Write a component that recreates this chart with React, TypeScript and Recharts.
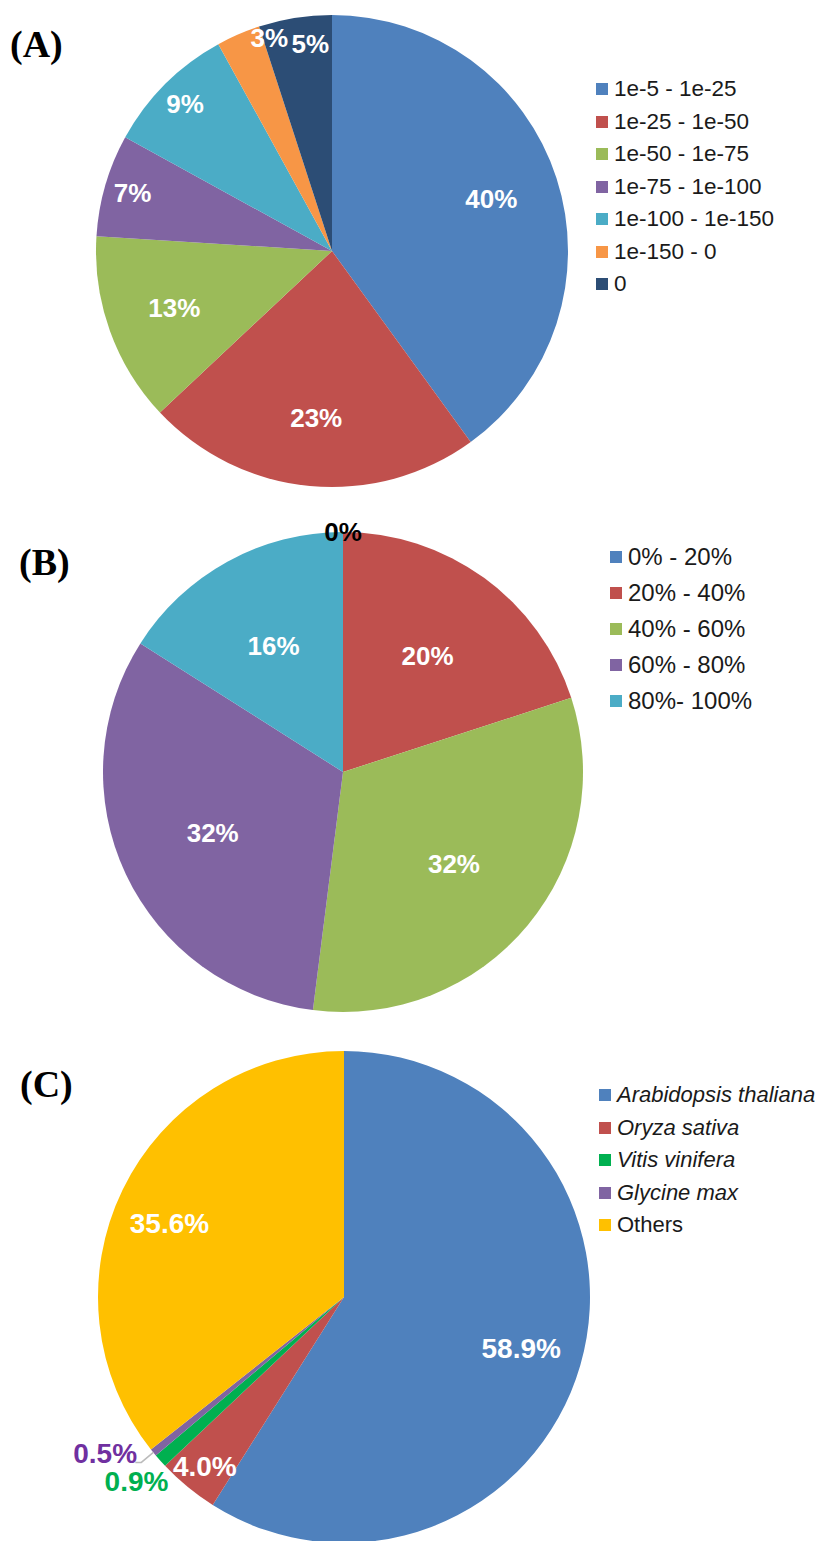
import { PieChart, Pie, Cell, Legend } from 'recharts';

// (A) e-value ranges
const A_NAMES = ['1e-5 - 1e-25', '1e-25 - 1e-50', '1e-50 - 1e-75', '1e-75 - 1e-100', '1e-100 - 1e-150', '1e-150 - 0', '0'];
const A_VALUES = [40, 23, 13, 7, 9, 3, 5];
const A_COLORS = ['#4F81BD', '#C0504D', '#9BBB59', '#8064A2', '#4BACC6', '#F79646', '#2C4D75'];

// (B) identity ranges
const B_NAMES = ['0% - 20%', '20% - 40%', '40% - 60%', '60% - 80%', '80%- 100%'];
const B_VALUES = [0, 20, 32, 32, 16];
const B_COLORS = ['#4F81BD', '#C0504D', '#9BBB59', '#8064A2', '#4BACC6'];

// (C) species
const C_NAMES = ['Arabidopsis thaliana', 'Oryza sativa', 'Vitis vinifera', 'Glycine max', 'Others'];
const C_VALUES = [58.9, 4.0, 0.9, 0.5, 35.6];
const C_COLORS = ['#4F81BD', '#C0504D', '#00B050', '#8064A2', '#FFC000'];
const C_LABEL_COLORS = ['#fff', '#fff', '#00B050', '#7030A0', '#fff'];

const toRows = (names: string[], values: number[]) =>
  names.map((name, i) => ({ name, value: values[i] }));

const RADIAN = Math.PI / 180;
const SANS = '"Liberation Sans", Arial, sans-serif';
const NO_MARGIN = { top: 0, right: 0, bottom: 0, left: 0 };

function polar(cx: number, cy: number, r: number, angle: number) {
  return { x: cx + r * Math.cos(-angle * RADIAN), y: cy + r * Math.sin(-angle * RADIAN) };
}

function labelA(p: any) {
  // small slices get pushed toward the rim, like Excel's best fit
  const k = p.value < 5 ? 0.94 : p.value < 10 ? 0.88 : 0.71;
  const ang = p.value < 4 ? p.midAngle - 7 : p.value < 6 ? p.midAngle - 3 : p.midAngle;
  const { x, y } = polar(p.cx, p.cy, p.outerRadius * k, ang);
  return (
    <text x={x} y={y} fill="#fff" fontFamily={SANS} fontWeight="bold" fontSize={26}
      textAnchor="middle" dominantBaseline="central">
      {`${p.value}%`}
    </text>
  );
}

function labelB(p: any) {
  const zero = p.value === 0;
  const { x, y } = polar(p.cx, p.cy, p.outerRadius * (zero ? 1.0 : 0.6), p.midAngle);
  return (
    <text x={x} y={y} fill={zero ? '#000' : '#fff'} fontFamily={SANS} fontWeight="bold" fontSize={26}
      textAnchor="middle" dominantBaseline="central">
      {`${p.value}%`}
    </text>
  );
}

function labelC(p: any) {
  const i = p.index;
  const tiny = p.value < 1;
  const smallest = tiny && p.value < 0.7;
  const k = tiny ? (smallest ? 1.16 : 1.13) : p.value < 10 ? 0.89 : p.value > 50 ? 0.75 : 0.77;
  let ang = p.midAngle;
  if (smallest) ang -= 6;
  else if (p.value > 30 && p.value < 50) ang += 3;
  const { x, y } = polar(p.cx, p.cy, p.outerRadius * k, ang);
  let leader = null;
  if (smallest) {
    const e = polar(p.cx, p.cy, p.outerRadius, p.midAngle);
    leader = (
      <polyline points={`${e.x},${e.y} ${e.x - 12},${e.y + 10} ${e.x - 18},${e.y + 10}`}
        fill="none" stroke="#bbb" strokeWidth={1.5} />
    );
  }
  return (
    <g>
      {leader}
      <text x={x} y={y} fill={C_LABEL_COLORS[i]} fontFamily={SANS} fontWeight="bold" fontSize={28}
        textAnchor="middle" dominantBaseline="central">
        {`${p.value.toFixed(1)}%`}
      </text>
    </g>
  );
}

function legendContent(names: string[], colors: string[], rowH: number, fontSize: number,
  italic: (name: string) => boolean) {
  return () => (
    <div style={{ fontFamily: SANS, fontSize, color: '#1a1a1a' }}>
      {names.map((name, i) => (
        <div key={name} style={{ height: rowH, display: 'flex', alignItems: 'center', whiteSpace: 'nowrap' }}>
          <span style={{ display: 'inline-block', width: 12, height: 12, background: colors[i], marginRight: 6 }} />
          <span style={{ fontStyle: italic(name) ? 'italic' : 'normal' }}>{name}</span>
        </div>
      ))}
    </div>
  );
}

export default function App() {
  const dataA = toRows(A_NAMES, A_VALUES);
  const dataB = toRows(B_NAMES, B_VALUES);
  const dataC = toRows(C_NAMES, C_VALUES);

  return (
    <div style={{ position: 'absolute', left: 0, top: 0, width: 825, height: 1541, background: '#fff', overflow: 'hidden' }}>
      <div style={{ position: 'absolute', left: 0, top: 0 }}>
        <PieChart width={825} height={505} margin={NO_MARGIN}>
          <Pie data={dataA} dataKey="value" nameKey="name" cx={332} cy={251} outerRadius={236}
            startAngle={90} endAngle={-270} stroke="none" labelLine={false} label={labelA}
            isAnimationActive={false}>
            {dataA.map((_, i) => <Cell key={i} fill={A_COLORS[i]} />)}
          </Pie>
          <Legend layout="vertical" wrapperStyle={{ left: 596, top: 73, width: 'auto' }}
            content={legendContent(A_NAMES, A_COLORS, 32.5, 22.5, () => false)} />
        </PieChart>
      </div>
      <div style={{ position: 'absolute', left: 0, top: 505 }}>
        <PieChart width={825} height={525} margin={NO_MARGIN}>
          <Pie data={dataB} dataKey="value" nameKey="name" cx={343} cy={267} outerRadius={240}
            startAngle={90} endAngle={-270} stroke="none" labelLine={false} label={labelB}
            isAnimationActive={false}>
            {dataB.map((_, i) => <Cell key={i} fill={B_COLORS[i]} />)}
          </Pie>
          <Legend layout="vertical" wrapperStyle={{ left: 610, top: 34, width: 'auto' }}
            content={legendContent(B_NAMES, B_COLORS, 36, 24, () => false)} />
        </PieChart>
      </div>
      <div style={{ position: 'absolute', left: 0, top: 1030 }}>
        <PieChart width={825} height={511} margin={NO_MARGIN}>
          <Pie data={dataC} dataKey="value" nameKey="name" cx={344} cy={267} outerRadius={246}
            startAngle={90} endAngle={-270} stroke="none" labelLine={false} label={labelC}
            isAnimationActive={false}>
            {dataC.map((_, i) => <Cell key={i} fill={C_COLORS[i]} />)}
          </Pie>
          <Legend layout="vertical" wrapperStyle={{ left: 599, top: 49, width: 'auto' }}
            content={legendContent(C_NAMES, C_COLORS, 32.5, 22, (n) => n !== 'Others')} />
        </PieChart>
      </div>
      <svg width={825} height={1541} style={{ position: 'absolute', left: 0, top: 0, pointerEvents: 'none' }}>
        <g fontFamily='"Liberation Serif", "Times New Roman", serif' fontWeight="bold" fontSize={38} fill="#000">
          <text x={10} y={57}>(A)</text>
          <text x={19} y={575}>(B)</text>
          <text x={20} y={1097}>(C)</text>
        </g>
      </svg>
    </div>
  );
}
